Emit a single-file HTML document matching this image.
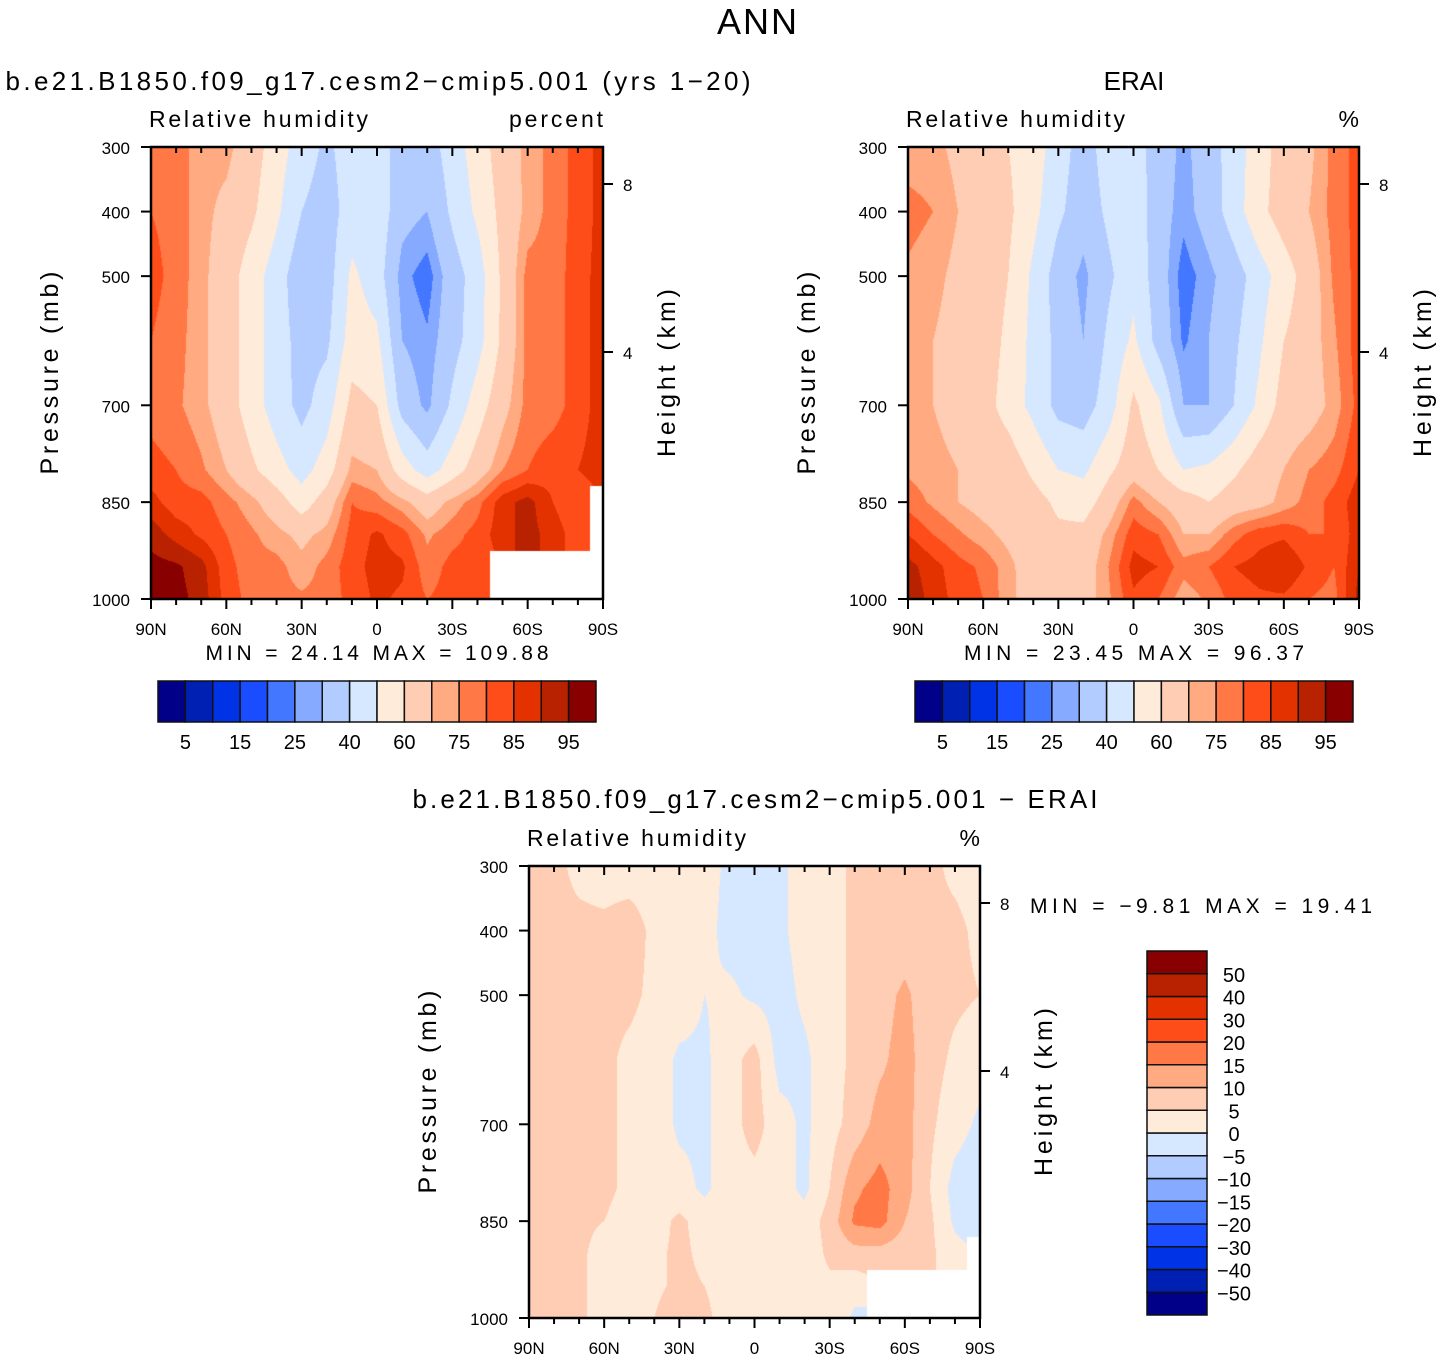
<!DOCTYPE html>
<html><head><meta charset="utf-8">
<style>
html,body{margin:0;padding:0;background:#fff;}
#wrap{position:relative;width:1441px;height:1361px;overflow:hidden;font-family:"Liberation Sans",sans-serif;}
canvas{position:absolute;}
svg{position:absolute;left:0;top:0;}
</style></head>
<body>
<div id="wrap">
<canvas id="c1" style="left:151px;top:147px" width="452" height="452"></canvas>
<canvas id="c2" style="left:908px;top:147px" width="451" height="452"></canvas>
<canvas id="c3" style="left:529px;top:866px" width="451" height="452"></canvas>
<svg id="svg" width="1441" height="1361"></svg>
</div>
<script>
// ---- data ----
const lats = [90,80,70,60,50,40,30,20,10,0,-10,-20,-30,-40,-50,-60,-70,-80,-90];
const pres = [300,400,500,600,700,800,850,900,950,1000];
const N = null;
const modelRH = [
 [78,78,72,72,65,55,45,38,45,45,35,35,45,55,65,72,77,82,87],
 [80,78,72,68,62,52,40,35,45,47,33,30,42,52,63,72,77,82,87],
 [82,78,72,65,55,45,33,35,52,45,27,22,35,45,62,77,77,83,87],
 [80,77,72,65,55,45,36,38,55,52,30,26,36,46,62,77,77,83,87],
 [78,76,72,65,55,45,37,45,63,60,36,28,42,55,67,77,78,82,88],
 [82,80,76,70,62,54,46,55,72,70,55,45,55,65,75,80,83,85,88],
 [87,82,82,77,72,65,55,65,80,77,72,65,72,78,88,92,85,80,N],
 [93,88,84,80,76,72,68,72,82,86,82,74,78,82,88,92,88,82,N],
 [97,96,92,82,77,77,72,77,83,87,86,77,82,82,N,N,N,N,N],
 [98,97,93,83,78,77,76,77,82,86,84,80,82,83,N,N,N,N,N]
];
const eraiRH = [
 [72,72,68,65,60,55,45,35,45,45,35,28,35,45,55,65,68,77,82],
 [77,75,70,66,62,53,42,34,42,47,34,27,34,45,57,65,70,77,82],
 [74,72,68,66,60,48,35,28,38,47,35,22,28,35,45,55,65,76,82],
 [72,70,67,65,58,47,37,30,42,52,36,24,30,38,48,60,66,74,83],
 [72,70,67,64,56,47,37,35,45,62,52,30,30,40,52,64,66,72,82],
 [74,72,70,67,66,58,50,48,58,66,60,50,52,58,66,70,75,78,85],
 [78,74,70,67,66,64,58,55,65,77,70,65,60,65,67,72,77,82,88],
 [85,80,76,72,68,65,62,63,72,83,80,70,70,78,83,84,80,80,88],
 [92,87,82,79,72,65,64,65,75,87,85,77,80,85,87,90,84,80,90],
 [94,88,83,80,72,66,65,66,74,84,80,72,76,82,84,84,80,78,92]
];
const diffRH = [
 [6,6,4,3,3,3,3,2,-1,-1,-1,2,3,6,6,6,6,4,3],
 [6,6,6,6,7,4,3,2,-2,-2,-1,2,3,6,6,7,6,6,4],
 [7,6,6,6,6,4,3,0,1,-1,-2,1,3,6,8,11,7,6,5],
 [6,6,6,6,4,3,-1,-1,3,7,-2,-1,3,6,9,12,7,4,2],
 [6,6,6,6,4,3,-1,-1,3,7,2,-1,3,7,12,12,6,2,-1],
 [6,6,6,6,4,3,2,-1,3,3,2,-1,5,14,17,12,5,-2,-3],
 [6,6,6,5,3,3,6,3,2,3,2,2,7,16,17,10,6,-1,-4],
 [7,6,6,3,3,4,6,4,3,4,2,2,6,8,8,7,6,2,N],
 [8,7,6,3,3,4,6,5,3,3,2,2,4,2,N,N,N,N,N],
 [10,8,6,3,3,5,8,6,3,2,2,2,4,-1,N,N,N,N,N]
];
const absLevels = [5,10,15,20,25,30,40,50,60,70,75,80,85,90,95];
const absLabels = ["5","15","25","40","60","75","85","95"];
const diffLevels = [-50,-40,-30,-20,-15,-10,-5,0,5,10,15,20,30,40,50];
const diffLabels = ["-50","-40","-30","-20","-15","-10","-5","0","5","10","15","20","30","40","50"];
const colors = ["#000088","#001fb3","#0033e6","#1a4dff","#4477ff","#85aaff","#b3ccff","#d6e8ff","#ffebd9","#ffcdb3","#ffaa80","#ff7845","#ff4d1a","#e33200","#b92200","#880000"];
const latTicks = ["90N","60N","30N","0","30S","60S","90S"];
const presTicks = [300,400,500,700,850,1000];
const kmTicks = [8,4];
const kmPos = [184,352];

function hexToRgb(h){return [parseInt(h.substr(1,2),16),parseInt(h.substr(3,2),16),parseInt(h.substr(5,2),16)];}
const rgb = colors.map(hexToRgb);
function levelIndex(v,lv){let i=0;while(i<lv.length&&v>=lv[i])i++;return i;}

function drawField(id,grid,lv){
  const cv=document.getElementById(id),ctx=cv.getContext('2d');
  const W=cv.width,H=cv.height,img=ctx.createImageData(W,H);
  for(let py=0;py<H;py++){
    const p=300+(py+0.5)/H*700;
    let k=0;while(k<pres.length-2&&p>pres[k+1])k++;
    const ty=(p-pres[k])/(pres[k+1]-pres[k]);
    for(let px=0;px<W;px++){
      const fx=(px+0.5)/W*(lats.length-1);
      let i=Math.min(Math.floor(fx),lats.length-2);const tx=fx-i;
      const a=grid[k][i],b=grid[k][i+1],c=grid[k+1][i],d=grid[k+1][i+1];
      const nr=grid[ty<0.5?k:k+1][tx<0.5?i:i+1];
      let col=[255,255,255];
      if(nr!==null){
        const vals=[[a,(1-tx)*(1-ty)],[b,tx*(1-ty)],[c,(1-tx)*ty],[d,tx*ty]];
        let s=0,w=0;vals.forEach(q=>{if(q[0]!==null){s+=q[0]*q[1];w+=q[1];}});
        col=rgb[levelIndex(s/w,lv)];
      }
      const o=(py*W+px)*4;img.data[o]=col[0];img.data[o+1]=col[1];img.data[o+2]=col[2];img.data[o+3]=255;
    }
  }
  ctx.putImageData(img,0,0);
}
drawField('c1',modelRH,absLevels);
drawField('c2',eraiRH,absLevels);
drawField('c3',diffRH,diffLevels);

const svg=document.getElementById('svg');
const NS="http://www.w3.org/2000/svg";
function el(tag,attrs,parent){const e=document.createElementNS(NS,tag);for(const k in attrs)e.setAttribute(k,attrs[k]);(parent||svg).appendChild(e);return e;}
function txt(x,y,s,size,anchor,name,rot,len){
  const t=el('text',{x:x,y:y,'font-size':size,'text-anchor':anchor||'start',fill:'#000','font-family':'Liberation Sans, sans-serif'});
  
  
  if(rot)t.setAttribute('transform','rotate(-90 '+x+' '+y+')');
  if(len){t.setAttribute('textLength',len);t.setAttribute('lengthAdjust','spacing');}
  t.textContent=s;return t;
}
function line(x1,y1,x2,y2,w){return el('line',{x1:x1,y1:y1,x2:x2,y2:y2,stroke:'#000','stroke-width':w||2});}

function panel(x0,y0,W,H,pfx,units,ulen){
  const g=el('g',{});
  
  
  const fr=el('rect',{x:x0,y:y0,width:W,height:H,fill:'none',stroke:'#000','stroke-width':2.5},g);
  
  
  const xs=v=>x0+(90-v)/180*W;
  const ys=p=>y0+(p-300)/700*H;
  for(let v=90;v>=-90;v-=10){
    const major=(v%30===0);
    line(xs(v),y0+H,xs(v),y0+H+(major?10:6),2);
    line(xs(v),y0,xs(v),y0+(major?9:6),2);
  }
  latTicks.forEach((s,j)=>txt(xs(90-30*j),y0+H+36,s,17,'middle',pfx+'-lat-label'));
  presTicks.forEach(p=>{line(x0-10,ys(p),x0,ys(p),2);txt(x0-21,ys(p)+7,String(p),17,'end',pfx+'-pressure-label');});
  kmTicks.forEach((k,j)=>{const y=y0+kmPos[j]-147;line(x0+W,y,x0+W+10,y,2);txt(x0+W+20,y+7,String(k),17,'start',pfx+'-height-label');});
  txt(x0-93,y0+H/2,'Pressure  (mb)',25,'middle',pfx+'-y-axis-title',true,203);
  txt(x0+W+72,y0+H/2,'Height  (km)',25,'middle',pfx+'-y2-axis-title',true,168);
  txt(x0-2,y0-20,'Relative  humidity',23,'start',pfx+'-variable-label',false,219);
  txt(x0+W,y0-20,units,23,'end',pfx+'-units-label',false,ulen);
}
txt(757,34,'ANN',36,'middle','main-title',false,80);
txt(378,90,'b.e21.B1850.f09_g17.cesm2\u2212cmip5.001  (yrs  1\u221220)',26,'middle','model-title',false,745);
txt(1134,90,'ERAI',26,'middle','erai-title');
txt(755,808,'b.e21.B1850.f09_g17.cesm2\u2212cmip5.001  \u2212  ERAI',26,'middle','difference-title',false,685);
panel(151,147,452,452,'model','percent',94);
panel(908,147,451,452,'erai','%',0);
panel(529,866,451,452,'diff','%',0);
txt(377,660,'MIN  =    24.14    MAX  =  109.88',21,'middle','model-minmax',false,343);
txt(1134,660,'MIN  =    23.45    MAX  =    96.37',21,'middle','erai-minmax',false,340);
txt(1030,913,'MIN  =    \u22129.81    MAX  =    19.41',21,'start','diff-minmax',false,342);

function hbar(x0,y0,W,H,pfx){
  const bw=W/colors.length;
  colors.forEach((c,j)=>{const r=el('rect',{x:x0+j*bw,y:y0,width:bw,height:H,fill:c,stroke:'#111','stroke-width':1.5});
    
    });
  absLabels.forEach((s,j)=>txt(x0+bw*(2*j+1),y0+H+27,s,20,'middle',pfx+'-colorbar-label'));
}
hbar(158,681,438,41,'model');
hbar(915,681,438,41,'erai');
(function(){
  const x0=1147,y0=951,W=60,H=364,bh=H/colors.length;
  colors.forEach((c,j)=>{const r=el('rect',{x:x0,y:y0+H-(j+1)*bh,width:W,height:bh,fill:c,stroke:'#111','stroke-width':1.5});
    
    });
  diffLabels.forEach((s,j)=>txt(1234,y0+H-(j+1)*bh+8,s.replace('-','\u2212'),20,'middle','diff-colorbar-label'));
})();
</script>
</body></html>
